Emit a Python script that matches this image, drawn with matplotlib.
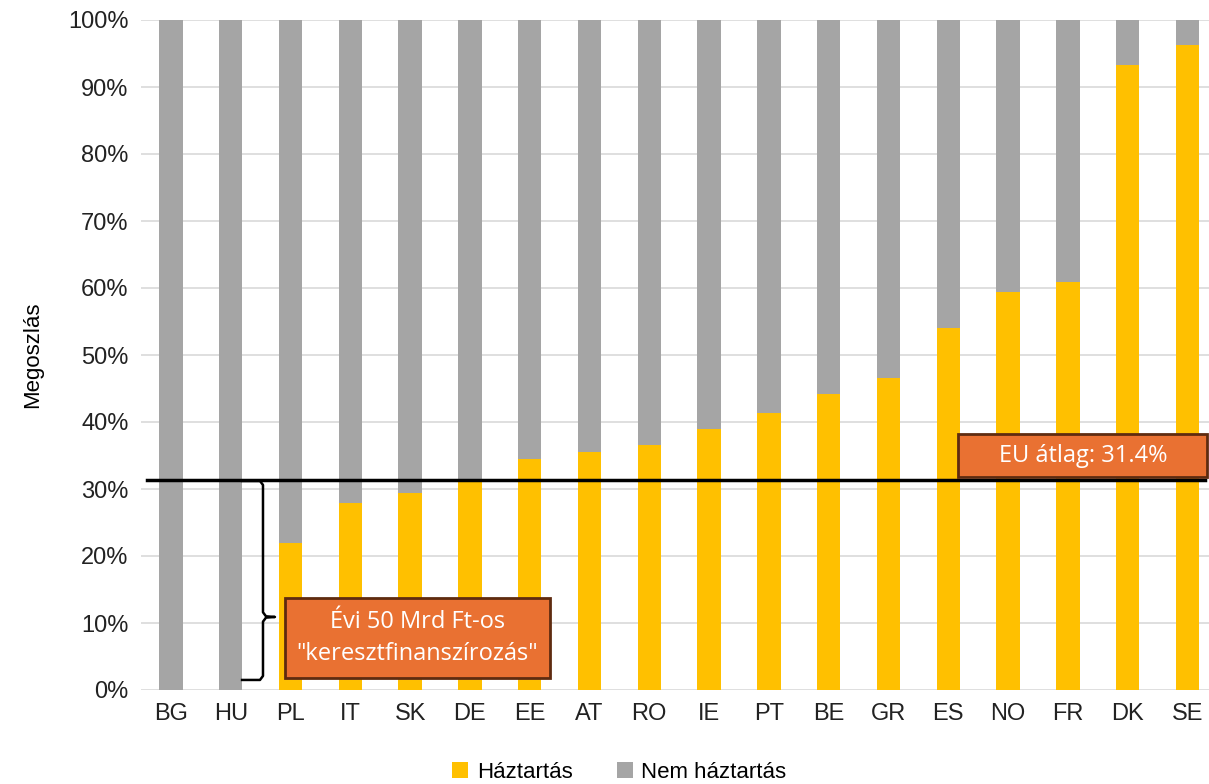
import numpy as np
import matplotlib.pyplot as plt
from matplotlib.patches import Rectangle
from matplotlib.ticker import PercentFormatter

countries = ['BG', 'HU', 'PL', 'IT', 'SK', 'DE', 'EE', 'AT', 'RO', 'IE',
             'PT', 'BE', 'GR', 'ES', 'NO', 'FR', 'DK', 'SE']
household = [0.0, 0.0, 21.9, 27.9, 29.4, 31.3, 34.5, 35.5, 36.6, 39.0,
             41.3, 44.2, 46.6, 54.0, 59.4, 60.9, 93.3, 96.3]
non_household = [100 - v for v in household]
eu_avg = 31.4

plt.rcParams['font.family'] = ['Liberation Sans', 'DejaVu Sans']

fig = plt.figure(figsize=(12.09, 7.84), dpi=100)
ax = fig.add_axes([141 / 1209, 94 / 784, 1068 / 1209, 670 / 784])

ind = np.arange(len(countries))
width = 0.39
ax.bar(ind, household, width, color='#FFC000', label='Háztartás', zorder=2)
ax.bar(ind, non_household, width, bottom=household, color='#A5A5A5',
       label='Nem háztartás', zorder=2)

ax.set_xlim(-0.5, 17.36)
ax.set_ylim(0, 100)
ax.set_yticks(np.arange(0, 101, 10))
ax.yaxis.set_major_formatter(PercentFormatter(decimals=0))
ax.set_xticks(ind)
ax.set_xticklabels(countries)
ax.tick_params(length=0, labelsize=17, colors='#222222', pad=9)
ax.grid(axis='y', color='#D9D9D9', linewidth=1.2, zorder=0)
for s in ax.spines.values():
    s.set_visible(False)
ax.set_ylabel('Megoszlás', fontsize=16, labelpad=18)

# EU average line
ax.axhline(eu_avg, xmin=0.006, xmax=0.996, color='black', linewidth=2.5, zorder=3)

box_font = ['Open Sans', 'DejaVu Sans']

# EU average box
ax.add_patch(Rectangle((13.16, 31.8), 4.17, 6.4, facecolor='#E97132',
                       edgecolor='#5E2B10', linewidth=2, zorder=4, clip_on=False))
ax.text(15.25, 35.0, f'EU átlag: {eu_avg}%', ha='center', va='center',
        fontsize=17, color='white', family=box_font, zorder=5)

# curly bracket for cross-financing
top, bot, mid = 31.2, 1.5, 10.9
xl, xv, xt = 1.19, 1.54, 1.74
ax.plot([xl, xv - 0.05, xv, xv, xv + 0.05, xt, xv + 0.05, xv, xv, xv - 0.05, xl],
        [top, top, top - 0.6, mid + 0.7, mid + 0.1, mid, mid - 0.1, mid - 0.7,
         bot + 0.6, bot, bot],
        color='black', linewidth=1.8, zorder=4, solid_joinstyle='round')

# cross-financing box
ax.add_patch(Rectangle((1.91, 1.8), 4.43, 11.9, facecolor='#E97132',
                       edgecolor='#5E2B10', linewidth=2, zorder=4))
ax.text(4.12, 7.75, 'Évi 50 Mrd Ft-os\n"keresztfinanszírozás"', ha='center',
        va='center', fontsize=17, color='white', linespacing=1.45,
        family=box_font, zorder=5)

ax.legend(loc='center', bbox_to_anchor=(0.448, -0.123), ncol=2,
          frameon=False, fontsize=16, handlelength=0.7, handleheight=0.7,
          columnspacing=2.0, handletextpad=0.4)

fig.savefig('out.png', dpi=100)
